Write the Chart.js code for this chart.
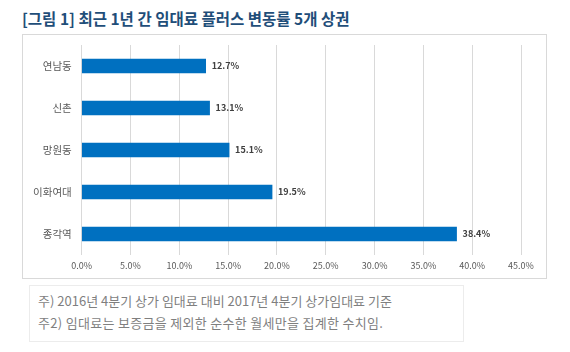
<!DOCTYPE html>
<html>
<head>
<meta charset="utf-8">
<script src="https://cdn.jsdelivr.net/npm/chart.js@4"></script>
<style>
  body { margin: 0; background: #fff; font-family: "Noto Sans CJK KR", sans-serif; }
  #page { position: relative; width: 570px; height: 352px; overflow: hidden; }
  #title { position: absolute; left: 22px; top: 7px; font-size: 15.5px; font-weight: bold; color: #1f4e79; white-space: nowrap; }
  #box { position: absolute; left: 22px; top: 34px; width: 523px; height: 243px; border: 1px solid #d9d9d9; }
  #note { position: absolute; left: 29px; top: 285px; width: 435px; height: 57px; border: 1px solid #ececec;
          font-size: 13px; color: #7f7f7f; line-height: 22px; padding: 4px 0 0 8px; box-sizing: border-box; white-space: nowrap; }
</style>
</head>
<body>
<div id="page">
  <div id="title">[그림 1] 최근 1년 간 임대료 플러스 변동률 5개 상권</div>
  <div id="box"><canvas id="rentChart" width="523" height="243"></canvas></div>
  <div id="note">
    주) 2016년 4분기 상가 임대료 대비 2017년 4분기 상가임대료 기준<br>
    <span style="letter-spacing:0.3px">주2) 임대료는 보증금을 제외한 순수한 월세만을 집계한 수치임.</span>
  </div>
</div>
<script>
const areas = ['연남동', '신촌', '망원동', '이화여대', '종각역'];
const changeRates = [12.7, 13.1, 15.1, 19.5, 38.4];
const tickValues = [0, 5, 10, 15, 20, 25, 30, 35, 40, 45];

const fontFamily = '"Noto Sans CJK KR", sans-serif';

// 막대 끝에 값 표시
const valueLabels = {
  id: 'valueLabels',
  afterDatasetsDraw(chart) {
    const ctx = chart.ctx;
    const meta = chart.getDatasetMeta(0);
    ctx.save();
    ctx.font = 'bold 9px ' + fontFamily;
    ctx.fillStyle = '#404040';
    ctx.textBaseline = 'middle';
    meta.data.forEach((bar, i) => {
      ctx.fillText(changeRates[i].toFixed(1) + '%', bar.x + 6, bar.y);
    });
    ctx.restore();
  }
};

new Chart(document.getElementById('rentChart').getContext('2d'), {
  type: 'bar',
  data: {
    labels: areas,
    datasets: [{
      data: changeRates,
      backgroundColor: '#0070c0',
      borderWidth: 0,
      barThickness: 14
    }]
  },
  options: {
    indexAxis: 'y',
    responsive: false,
    animation: false,
    layout: { padding: { left: 0, right: 25, top: 10, bottom: 0 } },
    plugins: {
      legend: { display: false },
      tooltip: { enabled: false }
    },
    scales: {
      x: {
        min: 0,
        max: 45,
        afterBuildTicks(scale) {
          scale.ticks = tickValues.map(v => ({ value: v }));
        },
        afterFit(scale) { scale.height = 23; },
        grid: { color: '#d9d9d9', drawTicks: false },
        border: { display: false },
        ticks: {
          padding: 5,
          color: '#595959',
          font: { family: fontFamily, size: 9 },
          callback: v => v.toFixed(1) + '%'
        }
      },
      y: {
        afterFit(scale) {
          scale.width = 58.7;
          scale.paddingTop = 0;
          scale.paddingBottom = 0;
        },
        grid: { display: false, drawTicks: false },
        border: { display: false },
        ticks: {
          padding: 10,
          color: '#595959',
          font: { family: fontFamily, size: 10.5 }
        }
      }
    }
  },
  plugins: [valueLabels]
});
</script>
</body>
</html>
